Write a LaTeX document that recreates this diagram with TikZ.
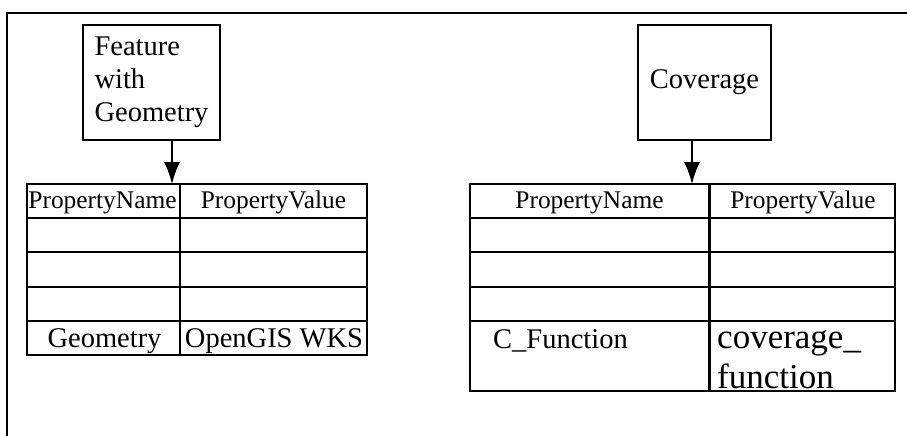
\documentclass[tikz,border=0pt]{standalone}
\usepackage{fontspec}
\setmainfont{Liberation Serif}
\usetikzlibrary{arrows.meta}
\begin{document}
\begin{tikzpicture}[x=1pt, y=-1pt, line join=miter]
	\tikzset{box/.style={draw, line width=1.5pt, inner sep=0pt},
		big/.style={font=\fontsize{28.5}{33}\selectfont},
		head/.style={font=\fontsize{25.4}{29}\selectfont},
		huge/.style={font=\fontsize{35}{40}\selectfont},
		grid/.style={line width=2pt},
		link/.style={line width=1.5pt, -{Latex[length=22pt, width=16pt]}}}
	\useasboundingbox (0,0) rectangle (907,436);
	% frame
	\draw[line width=2.5pt] (7,436)--(7,13)--(907,13);
	% top boxes
	\node[box, big, minimum width=137pt, minimum height=115pt, align=left] (feat) at (151.5,82.5) {Feature\\with\\Geometry};
	\node[box, big, minimum width=133pt, minimum height=115pt] (cov) at (704.5,82.5) {Coverage};
	% left table
	\draw[grid] (27,184) rectangle (367,355) (180,184)--(180,355);
	\foreach \y in {218,252,287,321} \draw[grid] (27,\y)--(367,\y);
	\coordinate (lhead) at (172,184);
	\draw[link] (feat.south -| lhead)--(lhead);
	\node[head, anchor=base] (lname) at (102.5,208) {PropertyName};
	\node[head, anchor=base] (lvalue) at (273.5,208) {PropertyValue};
	\node[big, anchor=base] (lgeom) at (104.5,347) {Geometry};
	\node[big, anchor=base] (lwks) at (274,347) {OpenGIS WKS};
	% right table
	\draw[grid] (470,184) rectangle (895,391);
	\draw[line width=3pt] (709,184)--(709,391);
	\foreach \y in {218,252,287,321} \draw[grid] (470,\y)--(895,\y);
	\coordinate (rhead) at (692,184);
	\draw[link] (cov.south -| rhead)--(rhead);
	\node[head, anchor=base] (rname) at (589.5,208) {PropertyName};
	\node[head, anchor=base] (rvalue) at (803,208) {PropertyValue};
	\node[big, anchor=base west, inner sep=0pt] (cfun) at (493,348) {C\_Function};
	\node[huge, anchor=base west, inner sep=0pt] (covf) at (717,348) {coverage\_};
	\node[huge, anchor=base west, inner sep=0pt] (func) at (717,388) {function};
\end{tikzpicture}
\end{document}
